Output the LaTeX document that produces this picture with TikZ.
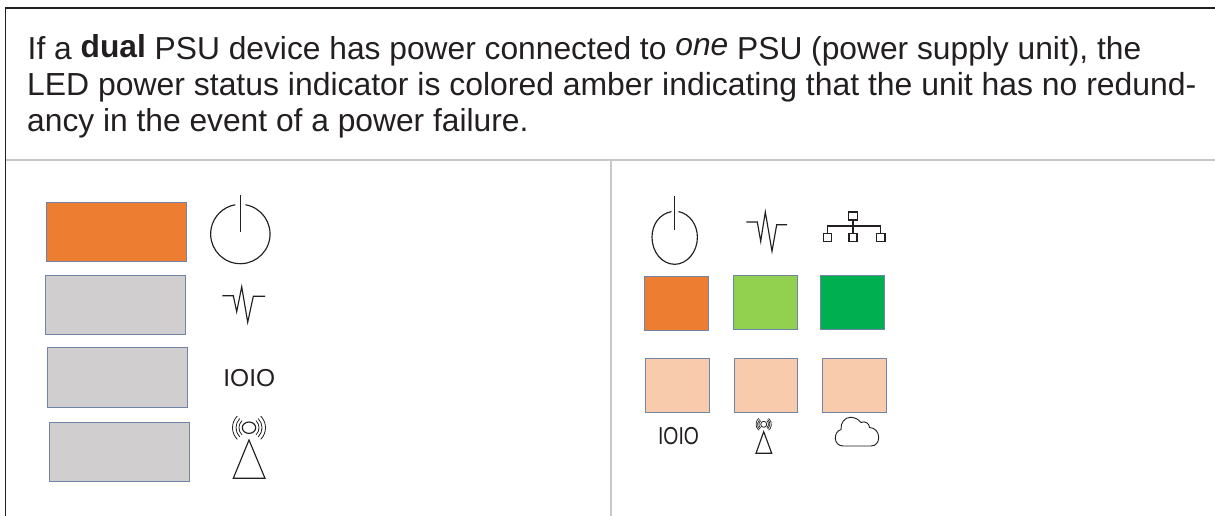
\documentclass[tikz,border=0pt]{standalone}
\usepackage{fontspec}
\setmainfont{Liberation Sans}
\definecolor{ink}{HTML}{231F20}
\definecolor{rule}{HTML}{C8C8C8}
\definecolor{amber}{HTML}{ED7D31}
\definecolor{silver}{HTML}{D0CECE}
\definecolor{lime}{HTML}{92D050}
\definecolor{emerald}{HTML}{00B050}
\definecolor{peach}{HTML}{F8CBAD}
\definecolor{edgeblue}{HTML}{7084A8}
\tikzset{
  led/.style={draw=edgeblue,line width=0.9pt},
  icon/.style={draw=ink,line width=1.15pt,line join=miter},
  bodytext/.style={anchor=base west,inner sep=0pt,text=ink,font=\fontsize{31.75}{31.75}\selectfont},
  iotext/.style={inner sep=0pt,text=ink,font=\fontsize{24.5}{24.5}\selectfont},
}
\begin{document}
\begin{tikzpicture}[x=1pt,y=-1pt]
\useasboundingbox (0,0) rectangle (1215,516);
\fill[white] (0,0) rectangle (1215,516);
% frame
\draw[ink,line width=1.8pt] (1215,8) -- (5.5,8) -- (5.5,516);
\draw[rule,line width=1.6pt] (6,160) -- (1215,160);
\draw[rule,line width=1.6pt] (611,160) -- (611,516);
% text
\node[bodytext] (l1) at (27.5,60) {If a \raisebox{2.5pt}{\textbf{dual}} PSU device has power connected to \raisebox{4pt}{\textit{one}} PSU (power supply unit), the};
\node[bodytext,font=\fontsize{31.92}{31.92}\selectfont] (l2) at (27,96) {LED power status indicator is colored amber indicating that the unit has no redund-};
\node[bodytext] (l3) at (27,131.7) {ancy in the event of a power failure.};
% left rects
\path[led,fill=amber] (46,202) rectangle (186,261);
\path[led,fill=silver] (45.5,275.5) rectangle (185.5,334.5);
\path[led,fill=silver] (47.5,347.5) rectangle (187.5,407);
\path[led,fill=silver] (49.5,422) rectangle (189.5,481.5);
% right rects
\path[led,fill=amber] (644,276.3) rectangle (708,330.7);
\path[led,fill=lime] (733.3,275.7) rectangle (797.3,329.7);
\path[led,fill=emerald] (820.7,275.3) rectangle (884.7,329.7);
\path[led,fill=peach] (645.3,358.3) rectangle (709.3,412.3);
\path[led,fill=peach] (734,358.3) rectangle (797.7,412.3);
\path[led,fill=peach] (822,358.3) rectangle (886,412.3);
% left icons
\draw[icon] (245.5,204.75) arc[start angle=-80,end angle=260,radius=29.7];
\draw[icon] (240.7,195) -- (240.7,232);
\draw[icon] (222.3,295.7) -- (233.3,295.7) -- (236.7,311.7) -- (241.7,286.7) -- (247.7,322.3) -- (253.3,296.3) -- (265,296.3);
\node[iotext] (io1) at (249.3,378.3) {IOIO};
\draw[icon] (249,440) -- (233.3,478.3) -- (265,478.3) -- cycle;
\draw[icon] (249,427.7) ellipse[x radius=6.7,y radius=5.7];
\foreach \r in {10,13,16.5}{
  \draw[icon,line width=0.8pt] (249,427.7) ++(135:\r) arc[start angle=135,end angle=225,radius=\r];
  \draw[icon,line width=0.8pt] (249,427.7) ++(-45:\r) arc[start angle=-45,end angle=45,radius=\r];
}
% right icons
\draw[icon] (678.5,211.6) .. controls (690,214) and (697.4,225) .. (697.4,237.3) .. controls (697.4,252) and (687,264.3) .. (674.7,264.3) .. controls (662,264.3) and (652,252) .. (652,237.3) .. controls (652,225) and (659,214) .. (671.5,211.6);
\draw[icon] (674.7,196) -- (674.7,229.5);
\draw[icon] (746.3,222) -- (757.3,222) -- (760.7,241.3) -- (765.3,212) -- (772,251.3) -- (776.7,224.7) -- (787,224.7);
% network
\draw[icon] (848.7,212) rectangle (857.3,220);
\draw[icon] (823.3,233.3) rectangle (831.3,241.7);
\draw[icon] (849,233.3) rectangle (857,241.7);
\draw[icon] (876.7,233.3) rectangle (885,241.7);
\draw[icon] (853,220) -- (853,233.3);
\draw[icon] (827.3,233.3) -- (827.3,226) -- (880.7,226) -- (880.7,233.3);
% bottom right icons
\node[iotext] (io2) at (678.5,436) {\scalebox{0.79}[1]{IOIO}};
\draw[icon] (763.7,431.7) -- (756,453.3) -- (771.7,453.3) -- cycle;
\draw[icon,line width=0.8pt] (763.7,424.3) circle[radius=3];
\foreach \r in {4.8,6.2,7.7}{
  \draw[icon,line width=0.7pt] (763.7,424.3) ++(130:\r) arc[start angle=130,end angle=230,radius=\r];
  \draw[icon,line width=0.7pt] (763.7,424.3) ++(-50:\r) arc[start angle=-50,end angle=50,radius=\r];
}
% cloud
\draw[icon,line width=0.9pt,line join=round] (843,446) -- (871,446)
  .. controls (876,446) and (878.7,442) .. (878.7,437.5)
  .. controls (878.7,432) and (875,427.7) .. (869.5,427.5)
  .. controls (869.5,423.5) and (865,420.5) .. (861,422.5)
  .. controls (858.5,419) and (854,417.3) .. (850.5,417.3)
  .. controls (844.5,417.3) and (840.5,423) .. (841,429.5)
  .. controls (837.5,430.5) and (835.3,434) .. (835.3,438)
  .. controls (835.3,442.5) and (838.5,446) .. (843,446);
\end{tikzpicture}
\end{document}
